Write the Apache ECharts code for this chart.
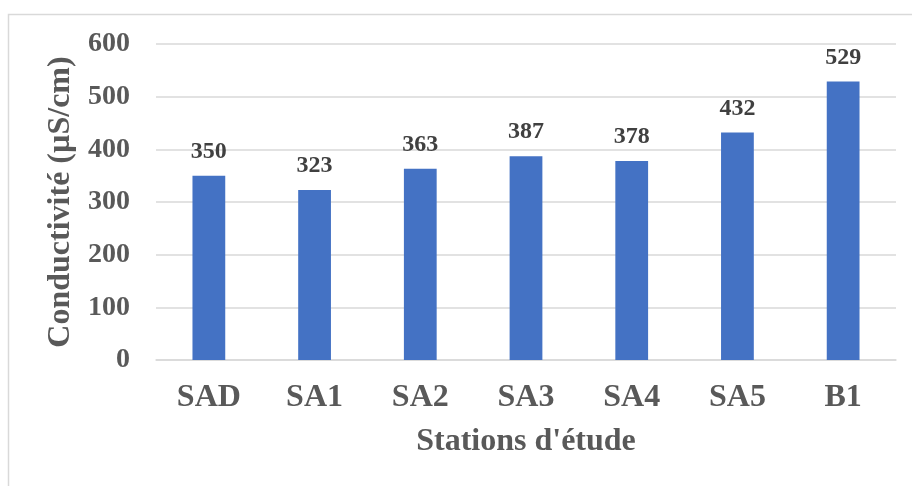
<!DOCTYPE html>
<html>
<head>
<meta charset="utf-8">
<script src="https://cdn.jsdelivr.net/npm/echarts@6/dist/echarts.min.js"></script>
<style>
html,body{margin:0;padding:0;background:#fff;}
#c{width:912px;height:486px;}
</style>
</head>
<body>
<div id="c"></div>
<script>
const categories = ['SAD', 'SA1', 'SA2', 'SA3', 'SA4', 'SA5', 'B1'];
const conductivity = [350, 323, 363, 387, 378, 432, 529];
const yTicks = [0, 100, 200, 300, 400, 500, 600];

const FONT = '"Liberation Serif", "Times New Roman", serif';
const chart = echarts.init(document.getElementById('c'), null, {renderer: 'canvas'});
chart.setOption({
  animation: false,
  backgroundColor: '#ffffff',
  graphic: [{
    type: 'rect',
    shape: {x: 8.5, y: 14.5, width: 1000, height: 600},
    style: {fill: 'none', stroke: '#d9d9d9', lineWidth: 1.5},
    silent: true
  }],
  grid: {left: 156, right: 16, top: 44, bottom: 126},
  xAxis: {
    type: 'category',
    data: categories,
    axisLine: {show: true, lineStyle: {color: '#d9d9d9', width: 1.5}},
    axisTick: {show: false},
    axisLabel: {color: '#595959', fontFamily: FONT, fontWeight: 'bold', fontSize: 32, margin: 22},
    name: "Stations d'étude",
    nameLocation: 'middle',
    nameGap: 66,
    nameTextStyle: {color: '#595959', fontFamily: FONT, fontWeight: 'bold', fontSize: 32}
  },
  yAxis: {
    type: 'value',
    min: yTicks[0],
    max: yTicks[yTicks.length - 1],
    interval: 100,
    axisLine: {show: false},
    axisTick: {show: false},
    splitLine: {lineStyle: {color: '#d9d9d9', width: 1.5}},
    axisLabel: {color: '#595959', fontFamily: FONT, fontWeight: 'bold', fontSize: 28, margin: 26},
    name: 'Conductivité (µS/cm)',
    nameLocation: 'middle',
    nameRotate: 90,
    nameGap: 79,
    nameTextStyle: {color: '#595959', fontFamily: FONT, fontWeight: 'bold', fontSize: 32}
  },
  series: [{
    type: 'bar',
    data: conductivity,
    barWidth: '31%',
    itemStyle: {color: '#4472C4'},
    label: {
      show: true,
      position: 'top',
      distance: 12,
      color: '#404040',
      fontFamily: FONT,
      fontWeight: 'bold',
      fontSize: 24
    }
  }]
});
</script>
</body>
</html>
